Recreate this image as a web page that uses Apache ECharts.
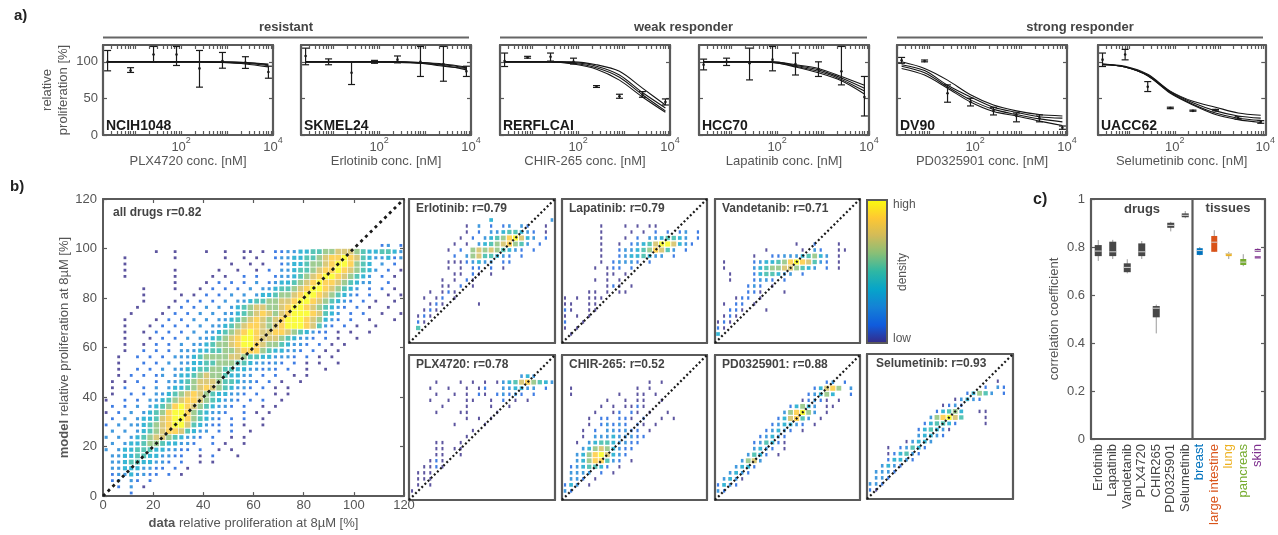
<!DOCTYPE html>
<html>
<head>
<meta charset="utf-8">
<title>chart</title>
<script src="https://cdn.jsdelivr.net/npm/echarts@6.0.0/dist/echarts.min.js"></script>
<style>
html,body{margin:0;padding:0;background:#ffffff;}
#chart{width:1278px;height:535px;}
</style>
</head>
<body>
<div id="chart"></div>
<script>
// ================= DATA =================
// ---- panel a: dose response ----
const logConc = [0.4, 0.9, 1.4, 1.9, 2.4, 2.9, 3.4, 3.9]; // log10 of concentration [nM]
const cellLines = ['NCIH1048', 'SKMEL24', 'RERFLCAI', 'HCC70', 'DV90', 'UACC62'];
const drugsA = ['PLX4720', 'Erlotinib', 'CHIR-265', 'Lapatinib', 'PD0325901', 'Selumetinib'];
const groups = ['resistant', 'weak responder', 'strong responder'];
const yTicksA = [0, 50, 100];
const xLabelsA = [2, 4];

const doseMean = [
  [100, 88, 110, 110, 91, 101, 99, 86],
  [108, 100, 85, 100, 103, 100, 97, 87],
  [101, 106, 107, 100, 66, 53, 55, 45],
  [96, 100, 98, 103, 97, 90, 87, 52],
  [102, 101, 57, 45, 33, 26, 23, 10],
  [103, 110, 66, 37, 33, 34, 23, 18]
];
const doseLow = [
  [87.7, 85.5, 99.6, 95, 65.4, 91.3, 91, 77.6],
  [96, 96, 69, 98, 98.6, 80, 73.5, 80],
  [93.6, 105, 101, 97, 65, 50.2, 51.6, 41],
  [89, 95, 75.3, 87.7, 82, 80, 68.5, 26],
  [98, 100, 44.8, 39.7, 27.4, 18, 18, 7.8],
  [93.6, 102.7, 59.4, 36, 32.5, 33, 21.5, 16]
];
const doseHigh = [
  [115.5, 92, 121, 121, 115.5, 112.8, 107, 94],
  [118.7, 104, 100, 102, 108, 121, 121, 94],
  [112, 107.5, 112, 105, 67.5, 55.7, 59.3, 49.3],
  [103.7, 105, 118.7, 121, 112, 100, 121, 80],
  [106, 102.5, 68.5, 50.2, 37.9, 30, 27.4, 12.3],
  [112, 117, 73, 38, 34, 35, 25, 19.6]
];
const modelCurves = [
  [[100,100,100,100,100,100,99,97],[100,100,100,100,100,99,98,95],[100,100,100,100,100,99,97,93],[100,100,100,100,100,100,99,96]],
  [[100,100,100,100,100,99,97,93],[100,100,100,100,100,98,95,89],[100,100,100,100,99,98,94,91],[100,100,100,100,100,99,96,92]],
  [[100,100,100,100,96,87,64,41],[100,100,100,99,94,82,58,37],[100,100,100,98,92,79,55,33],[100,100,100,97,90,75,52,31]],
  [[100,100,100,100,96,91,80,68],[100,100,100,100,95,89,78,64],[100,100,100,99,94,87,76,60],[100,100,100,99,93,85,74,56]],
  [[100,91,75,55,41,33,28,26],[96,88,68,52,38,31,25,23],[94,85,66,48,35,28,22,18],[91,82,64,45,32,26,19,13]],
  [[97,94,83,60,46,38,30,27],[97,93,82,59,44,33,26,23],[96,93,81,58,42,30,23,20],[96,93,81,57,41,28,21,17]]
];

// ---- panel b: density grids (rows from y=120 down to y=0; char = density level 1..9, '.' = none) ----
const mainCell = 2.5;
const mainDensity = [
'', '', '', '', '', '', '',
'............................................23.2',
'........1..1....1..1..11.1.223344556677765445543',
'...1.......1.......1..1.1..233445567889875433423',
'...1................1..1.1..234456678998654.3.2.',
'...1.......1......1..1..1.2.3345567889876543.2.1',
'...1.......1.....1.1..2.2..2334567899876543.2.1.',
'...........1....1.2.2.2.3.23445678988765433..2..',
'......1....1...1.2.2.2.3.3345567899876543.2.2.1.',
'......1.....1.1.2.2.3.3.34456678998765432.2..1.1',
'......1....1.2.2.2.3.3345566778998765432.2.1..1.',
'.....1....1.2.2.3.3.3456776678998765432.2.1..1..',
'....1....1.2.2.3.3.3345678767899987543.2.2..1..1',
'...1....1.2.2.3.3.33456787678999876432.2..1...1.',
'...1...1.2.2.2.3.33456788767899987532.2.1..1....',
'...1..1.2.2.2.3.33456789877887654322.1.1..1.....',
'...1...1.2.2.3.3345678998777654332.2.1..1.......',
'...1..1.2.2.3.3345667899876654332.2.1.1.........',
'...1..2.2.2.33344556678886544332.2.1.1..........',
'..1..2.2.2.33345666677655443332.2.1.1...........',
'..1...2.2.3.33445566655433232.2.1.1..1..........',
'..1..2.2.3.33445566554433232.2..1..1............',
'..1.2.2.23.3445676654433.2.2..1.1...............',
'.1.1.2..2.334567776554332.2.1..1................',
'.1.2..2.3.34456787654332.2.1.1..................',
'.1..2.2.334567876544332.2..1.1..................',
'1..2.2.334567887654332.2.2..1...................',
'.2.2.3.34568987654332.2..1.1....................',
'1.2.3.34568998654332..2.1.1.....................',
'.2.3.34457899865432.2.2..1......................',
'2.3.334567899754322.2.1..1......................',
'.3.3.345678875433.2.2..1.......................',
'3.3.345677654332.2..1.1........................',
'.3.344566544332..2.1..1.........................',
'3.344555443322.2..1.1..........................',
'.334455443322..1.2...1..........................',
'.3345544332.2..1.1.............................',
'.334443322.2.1..................................',
'.23343322.2.1',
'.23.32.2',
'..2.3.1',
'....2'
];
const smallCell = 5;
const erlotinibDensity = [
'', '', '',
'.............4.........3',
'.........1.3.2.23.32..1.',
'.........1.2.33455432.1.',
'........1.2.345689743.2.',
'.......1.1.345678653.2..',
'......1.2.676765432.2...',
'.......2.36755432.2.....',
'......11123433.22.......',
'......1.1.22.2.1........',
'.......11.21.1..........',
'.....1.1.21.............',
'.....11.2.1.............',
'...1.121................',
'..1.12.1................',
'...121.....1............',
'..121...................',
'.121....................',
'.21.....................',
'.5......................',
'', ''
];
const lapatinibDensity = [
'', '', '', '',
'......1...1.1.11........',
'......1....1.1.2.2.23.2.',
'......1...1.2.3345543.2.',
'......1..1.23457997432..',
'......1..2334568753.2...',
'......1..23445433.2.....',
'......1.23332.2.........',
'.....1.122.2............',
'.......11.1.............',
'.....1.1.1..............',
'.......121.1............',
'....11.1.11.............',
'1.1.111.................',
'11..11..................',
'21..11..................',
'1.1.1...................',
'2..1....................',
'1.1.....................',
'.1......................',
''
];
const vandetanibDensity = [
'', '', '', '', '', '', '',
'.............1..2...1...',
'........1.....1.32..11..',
'......1..2233345643.1...',
'.1....2344568987532.1...',
'.1....34566776543.2.1...',
'..1...2455433.2.........',
'..1...2332.2............',
'.....232.1..............',
'.....221...1............',
'...122.1................',
'.1.22.1.................',
'..221...1...............',
'.121....................',
'121.....................',
'21......................',
'4.......................',
''
];
const plx4720Density = [
'', '', '',
'..................343...',
'....1...1.1.1.1345786543',
'...1..1..1.12..334433.2.',
'....1..1.1.21.23232.2...',
'...1..1..11..1.2.1.1....',
'.....1...1...1..1.......',
'....1...11....1.........',
'.........1.1.1..........',
'.......1....1...........',
'..........1.............',
'.........1..............',
'....11..1...............',
'....11.11...............',
'....11..1...............',
'...121..................',
'..1121..................',
'.111....................',
'.111....................',
'.1.1....................',
'1.......................',
''
];
const chir265Density = [
'', '', '', '',
'..............1.1.......',
'.1..........1.1.........',
'.1.......1..11.1........',
'.......1..1.11..1.......',
'......1.1.1121..........',
'.....1..12.21.1..1......',
'....1.22.221.2..1.1.....',
'....1.23232.21.1........',
'...1.2.332322.1.........',
'...1.333433322..........',
'..1.345543322...........',
'...346764322............',
'..346897432.............',
'..34688532.1............',
'.2345542.1..............',
'.3333.2.1...............',
'.332.1..................',
'243.1...................',
'32......................',
''
];
const pd0325901Density = [
'', '', '', '',
'..................23.2..',
'................24786.3.',
'...............23464..2.',
'..............12321.1...',
'............24643.11....',
'...........368963.1.....',
'..........247853.1......',
'.........234432.1.......',
'........23432.1.........',
'.......23432............',
'......235421............',
'......3432.1............',
'.....3542.1.............',
'....3673................',
'...3442.................',
'..3432..................',
'.3431...................',
'2432....................',
'32......................',
''
];
const selumetinibDensity = [
'', '', '', '',
'.....................1..',
'...................2.32.',
'................24653.2.',
'..............13432.....',
'............1232........',
'...........24564..11....',
'..........368975...1....',
'.........245542....1....',
'........245431..........',
'........34432...........',
'......13443.............',
'...1.23542..............',
'...124532...............',
'...24432................',
'..3432..................',
'.3332...................',
'.332....................',
'332.....................',
'21......................',
''
];
const smallTitles = ['Erlotinib: r=0.79', 'Lapatinib: r=0.79', 'Vandetanib: r=0.71', 'PLX4720: r=0.78', 'CHIR-265: r=0.52', 'PD0325901: r=0.88', 'Selumetinib: r=0.93'];
const mainTitle = 'all drugs r=0.82';
const bTicks = [0, 20, 40, 60, 80, 100, 120];

// ---- panel c: correlation coefficients [min, q1, median, q3, max] ----
const corrCats = ['Erlotinib', 'Lapatinib', 'Vandetanib', 'PLX4720', 'CHIR265', 'PD0325901', 'Selumetinib', 'breast', 'large intestine', 'lung', 'pancreas', 'skin'];
const corrBox = [
  [0.742, 0.762, 0.783, 0.808, 0.829],
  [0.75, 0.762, 0.78, 0.822, 0.83],
  [0.69, 0.695, 0.715, 0.732, 0.749],
  [0.75, 0.762, 0.78, 0.815, 0.825],
  [0.44, 0.507, 0.545, 0.554, 0.56],
  [0.865, 0.88, 0.89, 0.901, 0.905],
  [0.92, 0.924, 0.932, 0.94, 0.95],
  [0.765, 0.767, 0.785, 0.795, 0.8],
  [0.78, 0.78, 0.82, 0.846, 0.87],
  [0.75, 0.762, 0.772, 0.775, 0.78],
  [0.72, 0.725, 0.737, 0.75, 0.77],
  [0.78, 0.78, 0.785, 0.792, 0.795]
];
const corrOutliers = [[11, 0.757]];
const corrTicks = [0, 0.2, 0.4, 0.6, 0.8, 1];
const firstTissue = 7;

// ================= STYLE / LAYOUT =================
const FONT = '"Liberation Sans", Arial, Helvetica, sans-serif';
const TXT = '#555555';
const FRAME = '#5a5a5a';
const parula = ['#352A87', '#0F5CDD', '#1481D6', '#06A4CA', '#2EB7A4', '#87BF77', '#D1BB59', '#FEC832', '#F9FB0E'];
const boxColors = ['#474747', '#474747', '#474747', '#474747', '#474747', '#474747', '#474747', '#0072BD', '#D95319', '#EDB120', '#77AC30', '#7E2F8E'];
const labelColors = ['#444', '#444', '#444', '#444', '#444', '#444', '#444', '#0072BD', '#D95319', '#EDB120', '#77AC30', '#7E2F8E'];

const aLeft = [103, 301, 500, 699, 897, 1098];
const grids = [];
aLeft.forEach(l => grids.push({ left: l, top: 45, width: 170, height: 90 }));
grids.push({ left: 103, top: 199, width: 301, height: 301 });            // 6 main
const smallBoxes = [
  [409, 199, 146, 144], [562, 199, 145, 144], [715, 199, 145, 144],
  [409, 355, 146, 145], [562, 355, 145, 145], [715, 355, 145, 145], [867, 354, 146, 145]
];
smallBoxes.forEach(b => grids.push({ left: b[0], top: b[1], width: b[2], height: b[3] })); // 7..13
grids.push({ left: 1091, top: 199, width: 174, height: 240 });           // 14 panel c

// log tick positions for panel a (minor + major)
const logTicks = [];
for (let e = 0; e < 4; e++) for (let m = 1; m < 10; m++) {
  const v = Math.log10(m * Math.pow(10, e));
  if (v >= 0.3 && v <= 4) logTicks.push(v);
}
logTicks.push(4);

const xAxes = [], yAxes = [];
const lineOf = (c, w) => ({ show: true, onZero: false, lineStyle: { color: c, width: w } });
const tickIn = (vals, len) => ({ show: true, inside: true, length: len || 4, lineStyle: { color: FRAME, width: 1.2 }, customValues: vals });
const noLabel = { show: false };
const noSplit = { show: false };

// panel a axes
for (let g = 0; g < 6; g++) {
  xAxes.push({
    gridIndex: g, type: 'value', position: 'bottom', min: 0.3, max: 4,
    axisLine: lineOf(FRAME, 2.2), axisTick: tickIn(logTicks, 4), splitLine: noSplit,
    axisLabel: {
      customValues: xLabelsA, margin: 1,
      formatter: v => '{b|10}{s|' + Math.round(v) + '}',
      rich: {
        b: { fontSize: 13, color: TXT, fontFamily: FONT, lineHeight: 18, verticalAlign: 'bottom' },
        s: { fontSize: 9, color: TXT, fontFamily: FONT, lineHeight: 18, verticalAlign: 'top' }
      }
    },
    name: drugsA[g] + ' conc. [nM]', nameLocation: 'middle', nameGap: 14,
    nameTextStyle: { fontSize: 13, color: TXT, fontFamily: FONT }
  });
  xAxes.push({
    gridIndex: g, type: 'value', position: 'top', min: 0.3, max: 4,
    axisLine: lineOf(FRAME, 2.2), axisTick: tickIn(logTicks, 4), axisLabel: noLabel, splitLine: noSplit
  });
  yAxes.push({
    gridIndex: g, type: 'value', position: 'left', min: 0, max: 123,
    axisLine: lineOf(FRAME, 2.2), axisTick: tickIn(yTicksA, 4), splitLine: noSplit,
    axisLabel: g === 0 ? { customValues: yTicksA, fontSize: 13, color: TXT, margin: 5, fontFamily: FONT } : noLabel,
    name: g === 0 ? 'relative\nproliferation [%]' : '', nameLocation: 'middle', nameGap: 32,
    nameTextStyle: { fontSize: 13, color: TXT, fontFamily: FONT, lineHeight: 16 }
  });
  yAxes.push({
    gridIndex: g, type: 'value', position: 'right', min: 0, max: 123,
    axisLine: lineOf(FRAME, 2.2), axisTick: tickIn(yTicksA, 4), axisLabel: noLabel, splitLine: noSplit
  });
}
// panel b main axes (grid 6)
xAxes.push({
  gridIndex: 6, type: 'value', position: 'bottom', min: 0, max: 120,
  axisLine: lineOf(FRAME, 2), axisTick: tickIn(bTicks, 4), splitLine: noSplit,
  axisLabel: { customValues: bTicks, fontSize: 13, color: TXT, margin: 3, fontFamily: FONT },
  name: '{b|data} relative proliferation at 8µM [%]', nameLocation: 'middle', nameGap: 19,
  nameTextStyle: { fontSize: 13, color: TXT, fontFamily: FONT, rich: { b: { fontSize: 13, fontWeight: 'bold', color: TXT, fontFamily: FONT } } }
});
xAxes.push({
  gridIndex: 6, type: 'value', position: 'top', min: 0, max: 120,
  axisLine: lineOf(FRAME, 2), axisTick: tickIn(bTicks, 4), axisLabel: noLabel, splitLine: noSplit
});
yAxes.push({
  gridIndex: 6, type: 'value', position: 'left', min: 0, max: 120,
  axisLine: lineOf(FRAME, 2), axisTick: tickIn(bTicks, 4), splitLine: noSplit,
  axisLabel: { customValues: bTicks, fontSize: 13, color: TXT, margin: 6, fontFamily: FONT },
  name: '{b|model} relative proliferation at 8µM [%]', nameLocation: 'middle', nameGap: 29,
  nameTextStyle: { fontSize: 13, color: TXT, fontFamily: FONT, rich: { b: { fontSize: 13, fontWeight: 'bold', color: TXT, fontFamily: FONT } } }
});
yAxes.push({
  gridIndex: 6, type: 'value', position: 'right', min: 0, max: 120,
  axisLine: lineOf(FRAME, 2), axisTick: tickIn(bTicks, 4), axisLabel: noLabel, splitLine: noSplit
});
// small panels (grids 7..13)
for (let g = 7; g <= 13; g++) {
  ['bottom', 'top'].forEach(p => xAxes.push({
    gridIndex: g, type: 'value', position: p, min: 0, max: 120,
    axisLine: lineOf(FRAME, 2.2), axisTick: { show: false }, axisLabel: noLabel, splitLine: noSplit
  }));
  ['left', 'right'].forEach(p => yAxes.push({
    gridIndex: g, type: 'value', position: p, min: 0, max: 120,
    axisLine: lineOf(FRAME, 2.2), axisTick: { show: false }, axisLabel: noLabel, splitLine: noSplit
  }));
}
// panel c (grid 14)
xAxes.push({
  gridIndex: 14, type: 'category', position: 'bottom',
  data: corrCats.map((c, i) => ({ value: c, textStyle: { color: labelColors[i] } })),
  axisLine: lineOf(FRAME, 2.2), axisTick: { show: false },
  axisLabel: { rotate: 90, interval: 0, fontSize: 13, margin: 5, fontFamily: FONT },
  splitLine: noSplit
});
xAxes.push({
  gridIndex: 14, type: 'category', position: 'top', data: corrCats,
  axisLine: lineOf(FRAME, 2.2), axisTick: { show: false }, axisLabel: noLabel, splitLine: noSplit
});
yAxes.push({
  gridIndex: 14, type: 'value', position: 'left', min: 0, max: 1,
  axisLine: lineOf(FRAME, 2.2), axisTick: tickIn(corrTicks, 4), splitLine: noSplit,
  axisLabel: { customValues: corrTicks, fontSize: 13, color: TXT, margin: 6, fontFamily: FONT,
    formatter: v => (v === 0 || v === 1) ? String(v) : v.toFixed(1) },
  name: 'correlation coefficient', nameLocation: 'middle', nameGap: 30,
  nameTextStyle: { fontSize: 13, color: TXT, fontFamily: FONT }
});
yAxes.push({
  gridIndex: 14, type: 'value', position: 'right', min: 0, max: 1,
  axisLine: lineOf(FRAME, 2.2), axisTick: tickIn(corrTicks, 4), axisLabel: noLabel, splitLine: noSplit
});

// ================= SERIES =================
const series = [];
const scatterIdx = [];

// panel a
for (let g = 0; g < 6; g++) {
  modelCurves[g].forEach(curve => series.push({
    type: 'line', xAxisIndex: 2 * g, yAxisIndex: 2 * g,
    data: logConc.map((x, i) => [x, curve[i]]),
    smooth: 0.3, showSymbol: false, silent: true, clip: true,
    lineStyle: { color: '#151515', width: 1.1 }, z: 3
  }));
  series.push({
    type: 'custom', xAxisIndex: 2 * g, yAxisIndex: 2 * g, silent: true, clip: true, z: 4,
    data: logConc.map((x, i) => [x, doseLow[g][i], doseHigh[g][i], doseMean[g][i]]),
    encode: { x: 0, y: [1, 2] },
    renderItem: function (params, api) {
      const x = api.value(0);
      const pLo = api.coord([x, api.value(1)]);
      const pHi = api.coord([x, api.value(2)]);
      const pM = api.coord([x, api.value(3)]);
      const w = 3.5, st = { stroke: '#1a1a1a', lineWidth: 1.2 };
      return {
        type: 'group', children: [
          { type: 'line', shape: { x1: pLo[0], y1: pLo[1], x2: pHi[0], y2: pHi[1] }, style: st },
          { type: 'line', shape: { x1: pLo[0] - w, y1: pLo[1], x2: pLo[0] + w, y2: pLo[1] }, style: st },
          { type: 'line', shape: { x1: pHi[0] - w, y1: pHi[1], x2: pHi[0] + w, y2: pHi[1] }, style: st },
          { type: 'circle', shape: { cx: pM[0], cy: pM[1], r: 1.3 }, style: { fill: '#1a1a1a' } }
        ]
      };
    }
  });
}

// panel b
function gridPoints(rows, cell) {
  const pts = [];
  rows.forEach((row, r) => {
    for (let c = 0; c < row.length; c++) {
      const ch = row[c];
      if (ch >= '1' && ch <= '9') pts.push([c * cell + cell / 2, 120 - r * cell - cell / 2, Number(ch)]);
    }
  });
  return pts;
}
const mainSize = [0, 2.8, 2.8, 3.1, 4.1, 4.8, 5.4, 5.6, 5.8, 5.8];
const smallSize = [0, [2, 3.4], [2.2, 3.4], [2.6, 3.6], 3.7, 4.3, 4.8, 5, 5.2, 5.2];
const densitySets = [
  [6, mainDensity, mainCell, mainSize, [3, 3.7], 2.8],
  [7, erlotinibDensity, smallCell, smallSize, [2, 2.4], 2.2],
  [8, lapatinibDensity, smallCell, smallSize, [2, 2.4], 2.2],
  [9, vandetanibDensity, smallCell, smallSize, [2, 2.4], 2.2],
  [10, plx4720Density, smallCell, smallSize, [2, 2.4], 2.2],
  [11, chir265Density, smallCell, smallSize, [2, 2.4], 2.2],
  [12, pd0325901Density, smallCell, smallSize, [2, 2.4], 2.2],
  [13, selumetinibDensity, smallCell, smallSize, [2, 2.4], 2.2]
];
densitySets.forEach(([g, rows, cell, sizes, dash, lw]) => {
  scatterIdx.push(series.length);
  series.push({
    type: 'scatter', xAxisIndex: 2 * g, yAxisIndex: 2 * g,
    data: gridPoints(rows, cell), symbol: 'rect',
    symbolSize: v => sizes[v[2]], silent: true, z: 2, clip: true
  });
  series.push({
    type: 'line', xAxisIndex: 2 * g, yAxisIndex: 2 * g,
    data: [[0, 0], [120, 120]], showSymbol: false, silent: true, z: 5,
    lineStyle: { color: '#1a1a1a', width: lw, type: dash }
  });
});

// panel c
series.push({
  type: 'custom', xAxisIndex: 28, yAxisIndex: 28, silent: true, z: 3, clip: false,
  data: corrBox.map((b, i) => [i].concat(b)),
  encode: { x: 0, y: [1, 5] },
  renderItem: function (params, api) {
    const i = api.value(0);
    const x = api.coord([i, 0])[0];
    const y = k => api.coord([i, api.value(k)])[1];
    const yMin = y(1), yQ1 = y(2), yMed = y(3), yQ3 = y(4), yMax = y(5);
    const hw = i < firstTissue ? 3.5 : 3;
    const children = [
      { type: 'line', shape: { x1: x, y1: yMin, x2: x, y2: yMax }, style: { stroke: '#9a9a9a', lineWidth: 1 } },
      { type: 'rect', shape: { x: x - hw, y: yQ3, width: 2 * hw, height: Math.max(1.5, yQ1 - yQ3) }, style: { fill: boxColors[i] } },
      { type: 'line', shape: { x1: x - hw, y1: yMed, x2: x + hw, y2: yMed }, style: { stroke: '#d5d5d5', lineWidth: 1 } }
    ];
    if (i === firstTissue) {
      // divider between drugs and tissues, at the category boundary
      const bx = x - api.size([1, 0])[0] / 2;
      children.push({ type: 'line', shape: { x1: bx, y1: api.coord([i, 0])[1], x2: bx, y2: api.coord([i, 1])[1] }, style: { stroke: FRAME, lineWidth: 2.2 } });
    }
    return { type: 'group', children: children };
  }
});
series.push({
  type: 'scatter', xAxisIndex: 28, yAxisIndex: 28, silent: true,
  data: corrOutliers, symbol: 'rect', symbolSize: [6, 2.5],
  itemStyle: { color: '#7E2F8E' }
});

// ================= TEXT / DECORATION =================
const graphics = [];
function txt(x, y, s, font, color, align, valign, rot) {
  graphics.push({
    type: 'text', x: x, y: y, rotation: rot || 0, z: 100, silent: true,
    style: { text: s, font: font, fill: color, textAlign: align || 'left', textVerticalAlign: valign || 'middle', align: align || 'left', verticalAlign: valign || 'middle' }
  });
}
function hline(x1, x2, y, color, w) {
  graphics.push({ type: 'line', z: 100, silent: true, shape: { x1: x1, y1: y, x2: x2, y2: y }, style: { stroke: color, lineWidth: w } });
}
const BOLD = s => 'bold ' + s + 'px ' + FONT;
const REG = s => s + 'px ' + FONT;

txt(14, 16, 'a)', BOLD(15), '#222');
txt(10, 187, 'b)', BOLD(15), '#222');
txt(1033, 200, 'c)', BOLD(16), '#222');

const groupSpans = [[103, 469], [500, 867], [897, 1263]];
groupSpans.forEach((s, i) => {
  txt((s[0] + s[1]) / 2, 27, groups[i], BOLD(13), '#444', 'center');
  hline(s[0], s[1], 37.5, '#666', 2.2);
});
cellLines.forEach((n, g) => txt(aLeft[g] + 3, 126, n, BOLD(14), '#1a1a1a'));

txt(113, 213, mainTitle, BOLD(12), '#444');
smallBoxes.forEach((b, i) => txt(b[0] + (i === 6 ? 9 : 7), b[1] + 10, smallTitles[i], BOLD(12), '#444'));

// colorbar frame & labels
graphics.push({ type: 'rect', z: 100, silent: true, shape: { x: 867, y: 200, width: 20, height: 143 }, style: { fill: 'none', stroke: FRAME, lineWidth: 2 } });
txt(893, 205, 'high', REG(12), TXT);
txt(893, 339, 'low', REG(12), TXT);
txt(903, 272, 'density', REG(12), TXT, 'center', 'middle', Math.PI / 2);

txt(1142, 209, 'drugs', BOLD(13), '#444', 'center');
txt(1228, 208, 'tissues', BOLD(13), '#444', 'center');

// ================= CHART =================
const chart = echarts.init(document.getElementById('chart'), null, { renderer: 'canvas' });
chart.setOption({
  animation: false,
  backgroundColor: '#ffffff',
  textStyle: { fontFamily: FONT },
  grid: grids,
  xAxis: xAxes,
  yAxis: yAxes,
  visualMap: [{
    type: 'continuous', min: 1, max: 9, dimension: 2, seriesIndex: scatterIdx,
    inRange: { color: parula }, orient: 'vertical', left: 867, top: 200,
    itemWidth: 20, itemHeight: 143, padding: 0, calculable: false, hoverLink: false, show: true
  }],
  graphic: graphics,
  series: series
});
</script>
</body>
</html>
